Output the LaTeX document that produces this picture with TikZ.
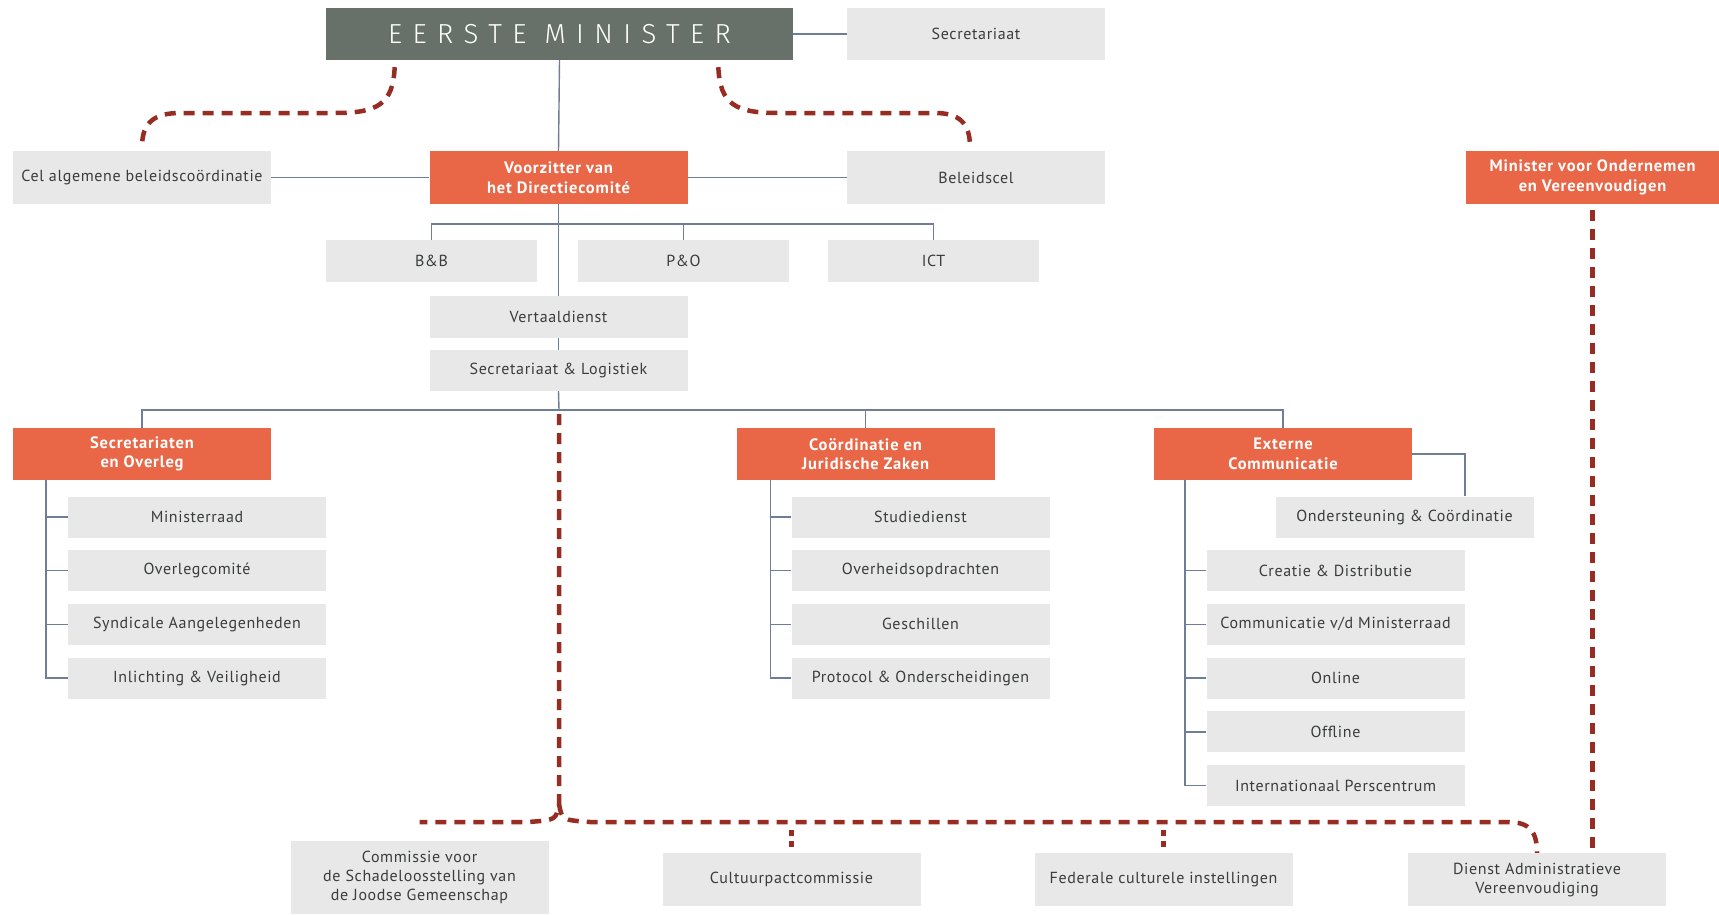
\documentclass[tikz,border=0pt]{standalone}
\usepackage{fontspec}
\setmainfont{PT Sans}
\newfontfamily\headfont{Fira Sans Light}[LetterSpace=38]
\usetikzlibrary{calc}

\definecolor{headgray}{RGB}{104,113,105}
\definecolor{boxgray}{RGB}{231,232,231}
\definecolor{boxorange}{RGB}{233,102,70}
\definecolor{inkgray}{RGB}{58,60,62}
\definecolor{linkblue}{RGB}{110,126,150}
\definecolor{relayred}{RGB}{150,44,34}

\tikzset{
  boss/.style={fill=headgray, text=white, minimum width=467pt, minimum height=52pt, inner sep=0pt,
    font=\headfont\fontsize{27.5}{30}\selectfont},
  unit/.style={fill=boxgray, text=inkgray, minimum width=258pt, minimum height=41pt, inner sep=0pt,
    align=center, font=\fontsize{16}{19}\selectfont\addfontfeature{LetterSpace=4}},
  lead/.style={unit, fill=boxorange, text=white, minimum height=53pt,
    font=\bfseries\fontsize{16.5}{19.5}\selectfont\addfontfeature{LetterSpace=5}},
  link/.style={draw=linkblue, line width=1.4pt},
  relay/.style={draw=relayred, line width=4.5pt, dash pattern=on 11pt off 8pt},
  drop/.style={relay, dash pattern=on 6pt off 5pt},
}

\begin{document}
\begin{tikzpicture}[x=1pt, y=-1pt]
\useasboundingbox (0,0) rectangle (1719,914);

\node[boss] (em) at (559.5,34) {EERSTE MINISTER};
\node[unit, minimum height=52pt] (sec) at (976,34) {Secretariaat};

\node[unit, minimum height=53pt] (cel) at (142,177.5) {Cel algemene beleidscoördinatie};
\node[lead] (vz) at (558.5,177.5) {Voorzitter van\\het Directiecomité};
\node[unit, minimum height=53pt] (bel) at (976,177.5) {Beleidscel};
\node[lead, minimum width=253pt] (mov) at (1592.5,177.5) {Minister voor Ondernemen\\en Vereenvoudigen};

\node[unit, minimum width=211pt, minimum height=42pt] (bb) at (431.5,261) {B\&B};
\node[unit, minimum width=211pt, minimum height=42pt] (po) at (683.5,261) {P\&O};
\node[unit, minimum width=211pt, minimum height=42pt] (ict) at (933.5,261) {ICT};
\node[unit, minimum height=42pt] (vt) at (558.5,317) {Vertaaldienst};
\node[unit] (sl) at (558.5,370.5) {Secretariaat \& Logistiek};

\node[lead, minimum height=52pt] (so) at (142,454) {Secretariaten\\en Overleg};
\node[lead, minimum height=52pt] (cjz) at (865.5,454) {Coördinatie en\\Juridische Zaken};
\node[lead, minimum height=52pt] (ext) at (1283,454) {Externe\\Communicatie};

\foreach \y/\n/\t in {517/so1/Ministerraad, 570.6/so2/Overlegcomité,
    624.3/so3/Syndicale Aangelegenheden, 678/so4/Inlichting \& Veiligheid}
  \node[unit] (\n) at (197,\y) {\t};
\foreach \y/\n/\t in {517/cj1/Studiedienst, 570.6/cj2/Overheidsopdrachten,
    624.3/cj3/Geschillen, 678/cj4/Protocol \& Onderscheidingen}
  \node[unit] (\n) at (920.5,\y) {\t};
\node[unit] (ond) at (1404.5,517) {Ondersteuning \& Coördinatie};
\foreach \y/\n/\t in {570.6/ec1/Creatie \& Distributie, 624.3/ec2/{Communicatie v/d Ministerraad},
    678/ec3/Online, 731.8/ec4/Offline, 785.5/ec5/Internationaal Perscentrum}
  \node[unit] (\n) at (1335.5,\y) {\t};

\node[unit, minimum height=73pt] (csj) at (419.5,877.5) {Commissie voor\\de Schadeloosstelling van\\de Joodse Gemeenschap};
\node[unit, minimum height=53pt] (cpc) at (791.5,879.5) {Cultuurpactcommissie};
\node[unit, minimum height=53pt] (fci) at (1163.5,879.5) {Federale culturele instellingen};
\node[unit, minimum height=53pt] (dav) at (1537,879.5) {Dienst Administratieve\\Vereenvoudiging};

\coordinate (hub) at (559,410);
\coordinate (fork) at (559,804);
\coordinate (rail) at (559,822);

\draw[link] (em.east) -- (sec.west);
\draw[link] (em.south) -- (vz.north);
\draw[link] (cel.east) -- (vz.west);
\draw[link] (vz.east) -- (bel.west);
\draw[link] (vz.south) -- (vt.north);
\draw[link] (vt.south) -- (sl.north);
\draw[link] (sl.south) -- (hub);
\draw[link] (bb.north) -- ++(0,-16) -| (ict.north);
\draw[link] (po.north) -- ++(0,-16);
\draw[link] (so.north) |- (hub) -| (ext.north);
\draw[link] (cjz.north) -- (cjz.north |- hub);

\coordinate (sospine) at ([xshift=33pt]so.south west);
\coordinate (cjspine) at ([xshift=34pt]cjz.south west);
\coordinate (ecspine) at ([xshift=31pt]ext.south west);
\draw[link] (sospine) |- (so4.west);
\draw[link] (cjspine) |- (cj4.west);
\draw[link] (ecspine) |- (ec5.west);
\foreach \n in {so1,so2,so3}
  \draw[link] (\n.west) -- (\n.west -| sospine);
\foreach \n in {cj1,cj2,cj3}
  \draw[link] (\n.west) -- (\n.west -| cjspine);
\foreach \n in {ec1,ec2,ec3,ec4}
  \draw[link] (\n.west) -- (\n.west -| ecspine);
\draw[link] (ext.east) -| ([xshift=60.5pt]ond.north);

\draw[relay, shorten <=7pt, shorten >=4pt] ([xshift=-164.5pt]em.south) .. controls (393,104) and (378,113) .. (335,113)
  -- (180,113) .. controls (155,113) and (142,122) .. (cel.north);
\draw[relay, shorten <=7pt, shorten >=4pt] ([xshift=158.5pt]em.south) .. controls (720,104) and (735,113) .. (778,113)
  -- (935,113) .. controls (958,113) and (970,122) .. ([xshift=-6pt]bel.north);
\draw[relay, shorten <=6pt] (mov.south) -- (mov.south |- dav.north);

\draw[relay, shorten <=4pt] (hub) -- (fork) .. controls (556,820) .. (528,822) -- (rail -| csj.north);
\draw[relay] (fork) .. controls (562,820) .. (590,822) -- (1508,822) .. controls (1530,822) and (1537,832) .. (dav.north);
\draw[drop, shorten <=8pt, shorten >=3pt] (rail -| cpc.north) -- (cpc.north);
\draw[drop, shorten <=8pt, shorten >=3pt] (rail -| fci.north) -- (fci.north);
\end{tikzpicture}
\end{document}
